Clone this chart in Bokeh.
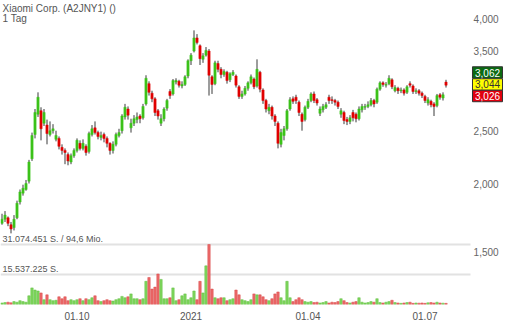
from bokeh.plotting import figure
from bokeh.models import (Range1d, LinearScale, FixedTicker, Label, ColumnDataSource)
from bokeh.core.properties import value
from bokeh.embed import file_html
from bokeh.resources import INLINE

TITLE = "Xiaomi Corp. (A2JNY1) ()"
SUBTITLE = "1 Tag"

open_ = [1.69,1.72,1.73,1.68,1.66,1.73,1.85,1.92,1.95,2.02,
         2.22,2.46,2.68,2.72,2.58,2.56,2.46,2.50,2.41,2.42,
         2.33,2.30,2.26,2.19,2.25,2.30,2.37,2.32,2.34,2.29,
         2.46,2.53,2.48,2.43,2.46,2.42,2.37,2.30,2.36,2.45,
         2.50,2.65,2.74,2.53,2.58,2.62,2.66,2.64,2.80,3.05,
         2.93,2.86,2.72,2.58,2.63,2.75,2.95,2.92,3.07,3.08,
         3.02,3.04,3.15,3.36,3.50,3.70,3.58,3.38,3.44,3.50,
         3.14,3.05,3.32,3.24,3.17,3.20,3.10,3.17,3.15,3.01,
         2.89,2.92,2.99,3.06,3.11,3.02,3.20,2.97,2.84,2.72,
         2.76,2.66,2.58,2.36,2.45,2.52,2.74,2.86,2.88,2.82,
         2.68,2.62,2.76,2.84,2.92,2.85,2.69,2.73,2.76,2.88,
         2.85,2.84,2.82,2.68,2.70,2.62,2.60,2.70,2.68,2.63,
         2.73,2.76,2.77,2.79,2.84,2.82,2.98,3.06,3.03,3.05,
         3.10,2.96,2.99,2.96,2.97,2.94,3.05,3.02,2.95,2.96,
         2.93,2.89,2.81,2.83,2.80,2.78,2.91,2.87,3.07]

high = [1.76,1.78,1.74,1.70,1.75,1.86,1.95,1.99,2.03,2.21,
        2.48,2.74,2.94,2.76,2.74,2.62,2.60,2.57,2.50,2.44,
        2.36,2.32,2.28,2.27,2.32,2.42,2.40,2.41,2.36,2.49,
        2.56,2.60,2.50,2.49,2.48,2.44,2.38,2.39,2.48,2.52,
        2.68,2.80,2.77,2.63,2.67,2.70,2.68,2.80,3.16,3.08,
        2.96,2.88,2.74,2.68,2.76,2.86,2.98,3.11,3.12,3.10,
        3.08,3.16,3.38,3.47,3.82,3.76,3.60,3.47,3.56,3.53,
        3.16,3.36,3.36,3.27,3.24,3.22,3.20,3.23,3.17,3.03,
        2.96,3.02,3.08,3.17,3.13,3.38,3.22,2.99,2.86,2.80,
        2.78,2.68,2.60,2.52,2.55,2.74,2.88,2.89,2.91,2.84,
        2.70,2.78,2.86,2.94,2.95,2.87,2.77,2.80,2.82,2.91,
        2.89,2.86,2.84,2.75,2.72,2.65,2.67,2.73,2.70,2.77,
        2.80,2.80,2.83,2.87,2.86,3.00,3.08,3.08,3.07,3.16,
        3.12,3.03,3.01,3.00,2.99,3.03,3.08,3.04,2.99,2.98,
        2.95,2.91,2.88,2.85,2.82,2.92,2.93,2.94,3.10]

low = [1.68,1.70,1.67,1.62,1.64,1.72,1.83,1.90,1.94,2.00,
       2.20,2.42,2.65,2.40,2.55,2.36,2.44,2.47,2.39,2.31,
       2.26,2.17,2.16,2.17,2.23,2.28,2.30,2.30,2.25,2.27,
       2.44,2.46,2.41,2.40,2.38,2.33,2.26,2.27,2.34,2.43,
       2.47,2.62,2.62,2.48,2.55,2.58,2.58,2.62,2.78,2.90,
       2.82,2.66,2.62,2.55,2.60,2.72,2.86,2.90,3.04,3.00,
       2.99,3.02,3.12,3.30,3.48,3.60,3.30,3.33,3.42,2.90,
       2.92,3.03,3.20,3.12,3.14,3.05,3.07,3.15,3.00,2.86,
       2.86,2.90,2.96,3.04,2.98,3.00,2.94,2.80,2.70,2.68,
       2.62,2.55,2.32,2.33,2.40,2.50,2.72,2.80,2.80,2.66,
       2.50,2.60,2.74,2.82,2.81,2.78,2.66,2.70,2.74,2.80,
       2.80,2.78,2.74,2.64,2.57,2.56,2.57,2.60,2.59,2.61,
       2.70,2.73,2.75,2.77,2.76,2.80,2.96,3.01,3.00,3.03,
       2.98,2.94,2.92,2.93,2.90,2.92,3.00,2.92,2.92,2.90,
       2.87,2.81,2.78,2.76,2.66,2.76,2.85,2.84,3.00]

close = [1.72,1.75,1.69,1.65,1.72,1.84,1.93,1.96,2.00,2.19,
         2.45,2.70,2.88,2.52,2.70,2.47,2.50,2.52,2.45,2.34,
         2.30,2.28,2.20,2.25,2.30,2.40,2.32,2.37,2.28,2.47,
         2.52,2.48,2.44,2.45,2.42,2.37,2.30,2.36,2.46,2.48,
         2.66,2.76,2.67,2.58,2.63,2.65,2.63,2.77,3.12,2.94,
         2.86,2.70,2.66,2.63,2.74,2.84,2.90,3.09,3.09,3.03,
         3.04,3.14,3.36,3.44,3.70,3.63,3.39,3.43,3.51,3.16,
         3.04,3.33,3.24,3.17,3.21,3.09,3.18,3.20,3.03,2.89,
         2.92,2.99,3.06,3.14,3.01,3.24,2.98,2.84,2.74,2.76,
         2.66,2.60,2.37,2.48,2.52,2.72,2.85,2.83,2.84,2.70,
         2.60,2.76,2.83,2.92,2.84,2.81,2.74,2.77,2.79,2.84,
         2.84,2.82,2.77,2.72,2.61,2.60,2.64,2.64,2.63,2.74,
         2.77,2.77,2.79,2.84,2.80,2.98,3.06,3.04,3.04,3.12,
         3.01,3.00,2.96,2.97,2.93,3.01,3.03,2.95,2.96,2.93,
         2.90,2.84,2.85,2.79,2.77,2.90,2.88,2.91,3.03]

volume_mio = [0.8,1.0,1.2,0.9,1.5,1.2,2.0,1.5,1.2,4.5,
              8.6,7.5,7.0,6.0,2.5,5.0,2.5,2.0,2.2,4.0,
              3.0,4.0,2.0,2.5,2.0,2.5,3.0,2.0,3.0,2.5,
              3.5,4.5,2.0,1.5,2.0,2.5,2.0,1.8,2.5,3.0,
              4.2,3.5,4.0,5.5,3.0,3.0,2.5,3.0,12.0,14.0,
              8.0,9.0,15.8,13.0,3.0,3.0,3.5,8.6,2.0,2.5,
              4.5,5.5,2.5,3.5,7.0,2.5,12.0,6.0,20.0,31.074451,
              8.0,3.5,3.0,3.5,3.5,2.0,2.5,3.0,7.5,5.0,
              2.5,2.0,1.5,2.5,5.5,5.0,5.0,4.0,2.5,2.0,
              3.0,5.5,6.5,3.5,2.0,12.0,3.5,1.5,2.5,3.5,
              2.5,1.5,1.2,1.5,1.0,1.2,0.8,1.0,1.5,0.8,
              1.2,1.0,1.5,3.0,2.0,1.0,0.8,1.2,1.5,3.5,
              1.2,0.8,1.0,1.5,1.2,3.0,1.0,0.8,1.2,1.5,
              2.2,1.0,0.8,0.6,0.8,1.0,1.2,0.6,0.8,0.7,
              0.8,0.6,0.9,1.0,0.8,1.2,0.8,0.7,0.6]

x_tick_pos = [25, 63, 102, 141]
x_tick_labels = ["01.10", "2021", "01.04", "01.07"]
price_ticks = [1.5, 2.0, 2.5, 3.5, 4.0]
vol_lines = [31.074451, 15.537225]
vol_line_labels = ["31.074.451 S. / 94,6 Mio."  , "15.537.225 S."]
quote_texts = ["3,062", "3,044", "3,026"]
quote_bg = ["#0b6a12", "#ffff00", "#e0000f"]
quote_fg = ["#ffffff", "#333333", "#ffffff"]

# ---- layout constants ----
FONT = "Liberation Sans"
FRAME_W, FRAME_H = 510, 304
PX_PER_BAR = 3
PRICE_TOP, PRICE_BOTTOM = 4.334, 1.1994
VOL_TOP = 157.4
PLOT_RIGHT_X = 156.17       # data x where the drawing area ends (px 470)
SCALE_LABEL_X = 157.2       # data x of the price-scale labels (px 473)
QUOTE_X = 161.83            # data x of the quote box centres (px 487)
quote_y = [3.197, 3.039, 2.895]

n = len(close)
xs = list(range(n))
up = [c >= o for o, c in zip(open_, close)]
src = ColumnDataSource(dict(
    x=xs, o=open_, h=high, l=low, c=close, v=volume_mio,
    top=[max(o, c) for o, c in zip(open_, close)],
    bottom=[min(o, c) for o, c in zip(open_, close)],
    color=["#3cc21a" if u else "#e00000" for u in up],
    vcolor=["#7fd65e" if u else "#ec6a6a" for u in up],
    vline=["#5fbf3f" if u else "#d94848" for u in up],
))

p = figure(width=510, height=320, frame_width=FRAME_W, frame_height=FRAME_H,
           y_axis_type="log",
           x_range=Range1d(-0.5, FRAME_W / PX_PER_BAR - 0.5),
           y_range=Range1d(PRICE_BOTTOM, PRICE_TOP),
           output_backend="svg", toolbar_location=None,
           min_border_left=0, min_border_right=0, min_border_top=0, min_border_bottom=16)
p.extra_y_ranges = {"vol": Range1d(0, VOL_TOP)}
p.extra_y_scales = {"vol": LinearScale()}
p.outline_line_color = None
p.xgrid.visible = False
p.ygrid.visible = False
p.yaxis.visible = False
p.background_fill_color = "white"
p.border_fill_color = "white"

# volume reference lines
p.segment(x0=-0.5, x1=PLOT_RIGHT_X, y0=vol_lines, y1=vol_lines, y_range_name="vol",
          line_color="#e2e2e2", line_width=2)

# volume bars
p.vbar(x="x", width=0.8, top="v", bottom=0, source=src, y_range_name="vol",
       fill_color="vcolor", line_color="vline", line_width=0.5)

# candles
p.segment(x0="x", y0="h", x1="x", y1="l", source=src, line_color="#3a3a3a", line_width=1)
p.vbar(x="x", width=0.75, top="top", bottom="bottom", source=src,
       fill_color="color", line_color="color", line_width=0.5)

# price scale labels (right side)
p.text(x=[SCALE_LABEL_X] * len(price_ticks), y=price_ticks,
       text=[f"{t:.3f}".replace(".", ",") for t in price_ticks],
       text_font=value(FONT), text_font_size="10px", text_color="#666666",
       text_align="left", text_baseline="middle")

# last-quote boxes
p.rect(x=[QUOTE_X] * 3, y=quote_y, width=10, height=11.5, height_units="screen",
       fill_color=quote_bg, line_color="#333333", line_width=1)
p.text(x=[QUOTE_X] * 3, y=quote_y, text=quote_texts, text_color=quote_fg,
       text_font=value(FONT), text_font_size="10px",
       text_align="center", text_baseline="middle")

# x axis
xa = p.xaxis[0]
xa.ticker = FixedTicker(ticks=x_tick_pos, minor_ticks=[])
xa.major_label_overrides = {t: s for t, s in zip(x_tick_pos, x_tick_labels)}
xa.major_tick_line_color = None
xa.minor_tick_line_color = None
xa.axis_line_color = None
xa.major_label_standoff = 1
xa.major_label_text_font = FONT
xa.major_label_text_font_size = "10px"
xa.major_label_text_color = "#555555"

# volume line labels
for lv, txt in zip(vol_lines, vol_line_labels):
    p.add_layout(Label(x=2, x_units="screen", y=lv, y_range_name="vol", text=txt,
                       text_font=FONT, text_font_size="9px", text_color="#555555",
                       text_baseline="bottom", text_align="left"))

# title lines
p.add_layout(Label(x=2, x_units="screen", y=4.19, text=TITLE, text_font=FONT,
                   text_font_size="10px", text_color="#555555",
                   text_baseline="alphabetic", text_align="left"))
p.add_layout(Label(x=2, x_units="screen", y=4.025, text=SUBTITLE, text_font=FONT,
                   text_font_size="10px", text_color="#555555",
                   text_baseline="alphabetic", text_align="left"))

open("out.html", "w").write(file_html(p, INLINE))
